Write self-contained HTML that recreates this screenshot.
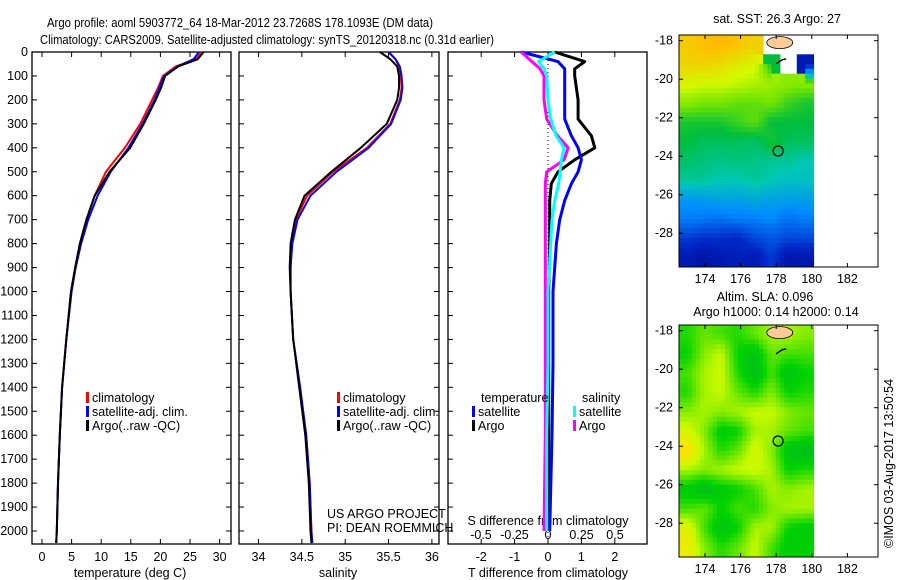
<!DOCTYPE html>
<html><head><meta charset="utf-8"><style>
html,body{margin:0;padding:0;background:#fff;}
svg{display:block;font-family:"Liberation Sans",sans-serif;}
text{font-size:12.5px;fill:#000;}
</style></head><body>
<svg id="fig" width="900" height="580" viewBox="0 0 900 580" xmlns="http://www.w3.org/2000/svg">
<text x="47" y="27" textLength="386" lengthAdjust="spacingAndGlyphs" font-size="14">Argo profile: aoml 5903772_64 18-Mar-2012 23.7268S 178.1093E (DM data)</text>
<text x="40" y="44" textLength="454" lengthAdjust="spacingAndGlyphs" font-size="14">Climatology: CARS2009. Satellite-adjusted climatology: synTS_20120318.nc (0.31d earlier)</text>
<g id="g"></g>
<text transform="translate(893,548) rotate(-90)" font-size="12.5">©IMOS 03-Aug-2017 13:50:54</text>
</svg>
<script>
// ---- data ----
const depths = [0,30,60,100,150,200,300,400,500,600,700,800,900,1000,1200,1400,1600,1800,2000,2050];
const tempClim = [27.0,26.0,22.6,20.4,19.6,18.6,16.6,14.0,10.8,8.9,7.5,6.4,5.6,4.9,4.1,3.4,3.0,2.7,2.5,2.4];
const tempSat  = [26.5,25.6,22.9,20.6,19.8,19.0,17.0,14.6,11.6,9.4,7.8,6.6,5.7,5.0,4.1,3.4,3.0,2.7,2.5,2.4];
const tempArgo = [27.3,26.3,23.0,20.8,20.1,19.2,17.2,14.9,11.4,8.9,7.5,6.4,5.6,4.9,4.1,3.4,3.0,2.7,2.5,2.4];
const salClim = [35.50,35.58,35.62,35.64,35.65,35.63,35.52,35.25,34.86,34.56,34.43,34.38,34.37,34.37,34.40,34.48,34.55,34.59,34.61,34.62];
const salSat  = [35.50,35.58,35.63,35.65,35.66,35.64,35.53,35.27,34.90,34.60,34.45,34.39,34.37,34.37,34.40,34.48,34.55,34.59,34.61,34.62];
const salArgo = [35.40,35.52,35.60,35.62,35.62,35.60,35.48,35.18,34.84,34.53,34.42,34.37,34.36,34.37,34.40,34.47,34.54,34.58,34.60,34.61];
const dDepths = [0,40,70,100,200,280,350,400,450,500,550,620,700,800,1000,1300,1600,2000];
const dTSat  = [-0.8,0.3,0.5,0.5,0.5,0.5,0.7,0.9,1.0,0.9,0.7,0.5,0.35,0.25,0.15,0.15,0.12,0.05];
const dTArgo = [0.2,1.1,0.8,0.8,0.9,0.9,1.3,1.4,0.8,0.3,0.1,0.05,0.05,0.05,0.02,0.02,0.02,0.02];
const dSSat  = [0.05,-0.07,-0.03,-0.01,0.0,0.02,0.06,0.12,0.10,0.09,0.08,0.05,0.03,0.02,0.0,0.0,-0.01,-0.01];
const dSArgo = [-0.2,-0.12,-0.06,-0.03,-0.03,-0.01,0.07,0.15,0.12,-0.01,-0.02,-0.02,-0.02,-0.02,-0.02,-0.02,-0.02,-0.03];
const depthTicks = [0,100,200,300,400,500,600,700,800,900,1000,1100,1200,1300,1400,1500,1600,1700,1800,1900,2000];
const tTicks = [0,5,10,15,20,25,30];
const sTicks = [34,34.5,35,35.5,36];
const dtTicks = [-2,-1,0,1,2];
const dsTicks = [-0.5,-0.25,0,0.25,0.5];
const dsTickLabels = ["-0.5","-0.25","0","0.25","0.5"];
const lonTicks = [174,176,178,180,182];
const latTicks = [-18,-20,-22,-24,-26,-28];
const sstGrid = [
[0.82,0.85,0.86,0.84,0.80,null,null,null],
[0.80,0.80,0.78,0.74,0.72,0.5,null,0.1],
[0.72,0.70,0.70,0.68,0.66,0.64,0.62,0.62],
[0.62,0.60,0.60,0.58,0.58,0.60,0.55,0.52],
[0.52,0.52,0.52,0.55,0.58,0.50,0.50,0.50],
[0.50,0.48,0.48,0.48,0.47,0.52,0.48,0.48],
[0.47,0.46,0.45,0.46,0.45,0.44,0.44,0.42],
[0.44,0.44,0.42,0.42,0.44,0.42,0.40,0.40],
[0.32,0.33,0.35,0.34,0.36,0.34,0.34,0.34],
[0.28,0.27,0.26,0.28,0.28,0.30,0.26,0.28],
[0.18,0.16,0.16,0.14,0.20,0.22,0.20,0.20],
[0.10,0.08,0.10,0.12,0.10,0.18,0.08,0.10]];
const slaGrid = [
[0.35,0.45,0.40,0.35,0.45,0.55,0.55,0.50],
[0.30,0.50,0.60,0.30,0.20,0.45,0.40,0.40],
[0.40,0.55,0.62,0.35,0.15,0.40,0.20,0.30],
[0.35,0.55,0.60,0.45,0.35,0.50,0.30,0.35],
[0.50,0.55,0.50,0.55,0.60,0.60,0.50,0.45],
[0.65,0.50,0.25,0.30,0.55,0.55,0.45,0.40],
[0.85,0.55,0.35,0.45,0.65,0.50,0.20,0.15],
[0.55,0.50,0.55,0.60,0.62,0.55,0.30,0.35],
[0.25,0.15,0.25,0.30,0.40,0.55,0.50,0.55],
[0.40,0.45,0.30,0.40,0.35,0.50,0.55,0.55],
[0.70,0.40,0.20,0.30,0.55,0.55,0.30,0.25],
[0.75,0.50,0.35,0.45,0.60,0.40,0.25,0.30]];

// ---- helpers ----
const NS="http://www.w3.org/2000/svg";
const G=document.getElementById('g');
function mk(tag,attrs,parent){const e=document.createElementNS(NS,tag);for(const k in attrs)e.setAttribute(k,attrs[k]);(parent||G).appendChild(e);return e;}
const yD = d => 52 + d*0.2395;
const xT = t => 42 + t*5.92;
const xS = s => 258.5 + (s-34)*86.7;
const xDT = v => 548 + v*33.4;
const xDS = v => 548 + v*134;

function frame(x0,x1,name){
  const r=mk('rect',{x:x0,y:52,width:x1-x0,height:492,fill:'none',stroke:'#000','stroke-width':1.3});
  
  
}
function line(xs,ds,sx,color,w,name){
  const pts=xs.map((v,i)=>sx(v).toFixed(1)+','+yD(ds[i]).toFixed(1)).join(' ');
  const p=mk('polyline',{points:pts,fill:'none',stroke:color,'stroke-width':w,'stroke-linejoin':'round'});
  
  
}
function txt(x,y,s,anchor,name,fs){
  const t=mk('text',{x:x,y:y,'text-anchor':anchor||'start'});
  if(fs)t.setAttribute('font-size',fs);
  t.textContent=s;
  
  
  return t;
}
function xticks(ticks,labels,sx,yl,name,top){
  ticks.forEach((v,i)=>{
    const x=sx(v);
    mk('line',{x1:x,x2:x,y1:544,y2:539,stroke:'#000'});
    if(top) mk('line',{x1:x,x2:x,y1:52,y2:57,stroke:'#000'});
    txt(x,yl,labels[i],'middle',name);
  });
}
function legendEntry(x,y,color,label,name){
  const m=mk('rect',{x:x,y:y-10,width:3,height:11,fill:color});
  
  
  txt(x+6,y,label,'start',name);
}

// ---- panel 1 ----
frame(32,231,'temperature-panel');
depthTicks.forEach(d=>{const y=yD(d);
  mk('line',{x1:32,x2:37,y1:y,y2:y,stroke:'#000'});mk('line',{x1:231,x2:226,y1:y,y2:y,stroke:'#000'});
  mk('line',{x1:239,x2:244,y1:y,y2:y,stroke:'#000'});mk('line',{x1:439,x2:434,y1:y,y2:y,stroke:'#000'});
  mk('line',{x1:448,x2:453,y1:y,y2:y,stroke:'#000'});
  txt(28,y+4,String(d),'end','depth-tick-label');});
xticks(tTicks,tTicks.map(String),xT,561,'temperature-tick-label',true);
txt(130,577,'temperature (deg C)','middle','temperature-axis-title');
line(tempClim,depths,xT,'#ff0000',2,'temperature-climatology-line');
line(tempSat,depths,xT,'#0000ff',2,'temperature-satellite-line');
line(tempArgo,depths,xT,'#000000',2,'temperature-argo-line');
legendEntry(86,402,'#ff0000','climatology','legend-climatology');
legendEntry(86,416,'#0000ff','satellite-adj. clim.','legend-satellite-adj');
legendEntry(86,430,'#000000','Argo(..raw -QC)','legend-argo');

// ---- panel 2 ----
frame(239,439,'salinity-panel');
xticks(sTicks,sTicks.map(String),xS,561,'salinity-tick-label',true);
txt(338,577,'salinity','middle','salinity-axis-title');
line(salClim,depths,xS,'#ff0000',2,'salinity-climatology-line');
line(salSat,depths,xS,'#0000ff',2,'salinity-satellite-line');
line(salArgo,depths,xS,'#000000',2,'salinity-argo-line');
legendEntry(337,402,'#ff0000','climatology','legend-climatology');
legendEntry(337,416,'#0000ff','satellite-adj. clim.','legend-satellite-adj');
legendEntry(337,430,'#000000','Argo(..raw -QC)','legend-argo');
txt(327,518,'US ARGO PROJECT','start','project-label');
txt(327,532,'PI: DEAN ROEMMICH','start','pi-label');

// ---- panel 3 ----
frame(448,647,'difference-panel');
mk('line',{x1:548,x2:548,y1:52,y2:544,stroke:'#000','stroke-dasharray':'1,3'});
xticks(dtTicks,dtTicks.map(String),xDT,561,'t-diff-tick-label',true);
dsTicks.forEach((v,i)=>txt(xDS(v),539,dsTickLabels[i],'middle','s-diff-tick-label'));
txt(548,525,'S difference from climatology','middle','s-diff-axis-title');
txt(548,577,'T difference from climatology','middle','t-diff-axis-title');
line(dTArgo,dDepths,xDT,'#000000',3,'t-diff-argo-line');
line(dTSat,dDepths,xDT,'#0000ff',3,'t-diff-satellite-line');
line(dSArgo,dDepths,xDS,'#ff00ff',3,'s-diff-argo-line');
line(dSSat,dDepths,xDS,'#00ffff',3,'s-diff-satellite-line');
txt(481,402,'temperature','start','legend-temperature-header');
txt(582,402,'salinity','start','legend-salinity-header');
legendEntry(472,416,'#0000ff','satellite','legend-t-satellite');
legendEntry(472,430,'#000000','Argo','legend-t-argo');
legendEntry(573,416,'#00ffff','satellite','legend-s-satellite');
legendEntry(573,430,'#ff00ff','Argo','legend-s-argo');

// ---- maps ----
function ramp(stops,v){
  for(let i=1;i<stops.length;i++){if(v<=stops[i][0]){const a=stops[i-1],b=stops[i],f=(v-a[0])/(b[0]-a[0]);return 'rgb('+a[1].map((c,k)=>Math.round(c+(b[1][k]-c)*f)).join(',')+')';}}
  return 'rgb('+stops[stops.length-1][1].join(',')+')';
}
const jetStops=[[0,[0,0,130]],[0.15,[0,40,200]],[0.3,[0,140,255]],[0.42,[0,200,180]],[0.5,[0,190,60]],[0.6,[120,230,0]],[0.7,[210,250,0]],[0.85,[255,190,0]],[1,[240,130,0]]];
const gyStops=[[0,[0,170,60]],[0.3,[0,210,0]],[0.6,[200,250,0]],[0.8,[250,230,0]],[1,[250,170,0]]];
function sample(grid,r,c){
  const R=grid.length-1,C=grid[0].length-1;
  r=Math.max(0,Math.min(R,r));c=Math.max(0,Math.min(C,c));
  const r0=Math.floor(r),c0=Math.floor(c),r1=Math.min(R,r0+1),c1=Math.min(C,c0+1);
  const fr=r-r0,fc=c-c0;
  const v=[[grid[r0][c0],grid[r0][c1]],[grid[r1][c0],grid[r1][c1]]];
  if(v.flat().some(x=>x===null)) return grid[Math.round(r)][Math.round(c)];
  return v[0][0]*(1-fr)*(1-fc)+v[0][1]*(1-fr)*fc+v[1][0]*fr*(1-fc)+v[1][1]*fr*fc;
}
function map(top,grid,stops,name,title1,title2){
  const left=679,right=878,bottom=top+232;
  const lonX=l=>705+(l-174)*17.8;
  const latY=l=>top+5.7+(-18-l)*19.25;
  const gx1=lonX(180.1);
  const S=4;
  const nr=grid.length*S,nc=grid[0].length*S;
  const cw=(gx1-left)/nc,ch=(bottom-top)/nr;
  const gg=mk('g',{});
  
  
  for(let r=0;r<nr;r++)for(let c=0;c<nc;c++){
    const v=sample(grid,(r+0.5)/S-0.5,(c+0.5)/S-0.5);
    if(v===null) continue;
    mk('rect',{x:(left+c*cw).toFixed(1),y:(top+r*ch).toFixed(1),width:(cw+0.5).toFixed(1),height:(ch+0.5).toFixed(1),fill:ramp(stops,v)},gg);
  }
  mk('ellipse',{cx:lonX(178.2),cy:latY(-18.1),rx:13,ry:6,fill:'#ffcc99',stroke:'#000','stroke-width':0.8});
  mk('path',{d:`M${lonX(178)} ${latY(-19.2)} l6 -4 l4 -1`,stroke:'#000','stroke-width':1.5,fill:'none'});
  const r=mk('rect',{x:left,y:top,width:right-left,height:bottom-top,fill:'none',stroke:'#000','stroke-width':1});
  
  
  lonTicks.forEach(l=>{const x=lonX(l);mk('line',{x1:x,x2:x,y1:bottom,y2:bottom-4,stroke:'#000'});mk('line',{x1:x,x2:x,y1:top,y2:top+4,stroke:'#000'});txt(x,bottom+16,String(l),'middle',name+'-lon-label');});
  latTicks.forEach(l=>{const y=latY(l);mk('line',{x1:left,x2:left+4,y1:y,y2:y,stroke:'#000'});mk('line',{x1:right,x2:right-4,y1:y,y2:y,stroke:'#000'});txt(673,y+4,String(l),'end',name+'-lat-label');});
  const c=mk('circle',{cx:lonX(178.11),cy:latY(-23.73),r:5,fill:'none',stroke:'#000','stroke-width':1.2});
  
  
  if(title2){txt(765,top-24,title1,'middle',name+'-title');txt(776,top-9,title2,'middle',name+'-subtitle');}
  else txt(777,top-12,title1,'middle',name+'-title');
}
map(35,sstGrid,jetStops,'sst-map','sat. SST: 26.3 Argo: 27');
map(325,slaGrid,gyStops,'sla-map','Altim. SLA: 0.096','Argo h1000: 0.14 h2000: 0.14');
</script>
</body></html>
